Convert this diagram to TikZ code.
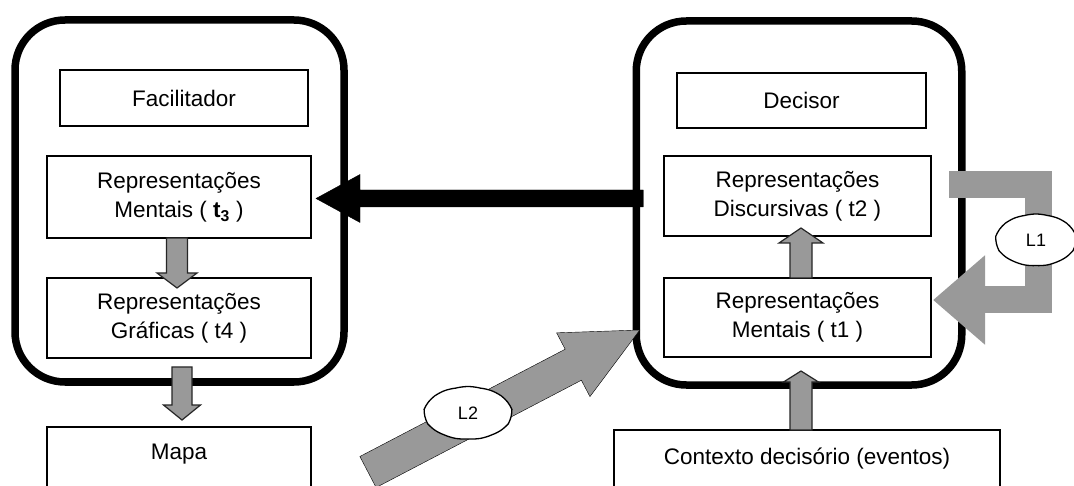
\documentclass[tikz,border=0pt]{standalone}
\usepackage{fontspec}
\setmainfont{Liberation Sans}
\usetikzlibrary{calc,arrows.meta,shapes.symbols}
\definecolor{arrgray}{RGB}{153,153,153}
% block arrow: #1 style, #2 from, #3 to, #4 shaft half width, #5 head half width, #6 head length
\newcommand{\blockarr}[6]{%
  \path ($(#3)!#6!(#2)$) coordinate (bh);
  \draw[#1] ($(#2)!#4!90:(#3)$) -- ($(bh)!#4!90:(#3)$) -- ($(bh)!#5!90:(#3)$) -- (#3)
    -- ($(bh)!#5!-90:(#3)$) -- ($(bh)!#4!-90:(#3)$) -- ($(#2)!#4!-90:(#3)$) -- cycle;}
\begin{document}
\begin{tikzpicture}[x=1pt,y=-1pt,
  every node/.style={outer sep=0pt},
  bigbox/.style={draw, line width=7.5pt, rounded corners=50pt, inner sep=0pt},
  inbox/.style={draw, line width=1.3pt, inner sep=0pt, align=center,
                font=\fontsize{22.5pt}{29pt}\selectfont},
  txt/.style={inner sep=0pt, font=\fontsize{22.5pt}{29pt}\selectfont},
  lbl/.style={cloud, cloud puffs=11, cloud puff arc=30, cloud ignores aspect,
              draw, fill=white, line width=1.3pt, inner sep=0pt,
              font=\fontsize{18pt}{21pt}\selectfont},
  garr/.style={draw=black!85, line width=1.2pt, fill=arrgray, line join=miter},
  barr/.style={fill=black},
  farr/.style={fill=arrgray},
  loop/.style={draw=arrgray, line width=27pt, line join=miter,
               -{Triangle[length=52pt,width=86pt]}}]
\useasboundingbox (0,0) rectangle (1074,486);
\fill[white] (0,0) rectangle (1074,486);

% big containers
\node[bigbox, minimum width=329pt, minimum height=362pt] (facbox) at (179.5,201) {};
\node[bigbox, minimum width=325.5pt, minimum height=364pt] (decbox) at (799,203) {};

% left inner boxes
\node[inbox, minimum width=248pt, minimum height=56pt] (fac) at (184,98) {Facilitador};
\node[inbox, minimum width=264pt, minimum height=82pt] (t3) at (179,197)
  {Representações\\Mentais ( \textbf{t}\textsubscript{\textbf{3}} )};
\node[inbox, minimum width=264pt, minimum height=80pt] (t4) at (179,318)
  {Representações\\Gráficas ( t4 )};
\node[inbox, minimum width=264pt, minimum height=70pt, anchor=north] (mapa) at (179,427) {};
\node[txt] (mapatxt) at (179,454) {Mapa};

% right inner boxes
\node[inbox, minimum width=249pt, minimum height=55pt] (dec) at (801.5,100.5) {Decisor};
\node[inbox, minimum width=267pt, minimum height=80pt] (t2) at (797.5,196)
  {Representações\\Discursivas ( t2 )};
\node[inbox, minimum width=267pt, minimum height=79pt] (t1) at (797.5,317.5)
  {Representações\\Mentais ( t1 )};
\node[inbox, minimum width=386pt, minimum height=58pt] (ctx) at (807,459)
  {Contexto decisório (eventos)};

% connector end points
\coordinate (a34s) at ($(t3.south)+(-2,0)$);
\coordinate (a34e) at ($(t4.north)+(-2,10)$);
\coordinate (a4ms) at ($(t4.south)+(3,9)$);
\coordinate (a4me) at ($(mapa.north)+(3,-7)$);
\coordinate (a12s) at ($(t1.north)+(3.5,0)$);
\coordinate (a12e) at ($(t2.south)+(3.5,-8)$);
\coordinate (ac1s) at ($(ctx.north)+(-6,0)$);
\coordinate (ac1e) at ($(t1.south)+(3.5,14)$);
\coordinate (bs) at ($(decbox.west |- t3.east)+(7,1.5)$);
\coordinate (be) at ($(t3.east)+(5,1.5)$);
\coordinate (l2s) at (368,472);
\coordinate (l2e) at ($(decbox.west |- 0,330)+(3.5,0)$);
\coordinate (l1s) at ($(t2.east)+(18,-11)$);
\coordinate (l1e) at ($(t1.east)+(2,-17.5)$);

% gray block arrows
\blockarr{garr}{a34s}{a34e}{10.5pt}{20pt}{15pt}
\blockarr{garr}{a4ms}{a4me}{10pt}{18.5pt}{15pt}
\blockarr{garr}{a12s}{a12e}{11pt}{22pt}{15pt}
\blockarr{garr}{ac1s}{ac1e}{11pt}{17.5pt}{11pt}

% black arrow decisor -> facilitador
\blockarr{barr}{bs}{be}{8.5pt}{24pt}{44pt}

% L2 arrow
\blockarr{farr}{l2s}{l2e}{17.5pt}{36pt}{75pt}

% L1 loop arrow
\draw[loop] (l1s) -- (1038.5,185) -- (1038.5,300) -- (l1e);

% labels
\node[lbl, minimum width=80pt, minimum height=52pt] (L1) at (1036,240) {L1};
\node[lbl, minimum width=87pt, minimum height=53pt] (L2) at (468,413) {L2};
\end{tikzpicture}
\end{document}
